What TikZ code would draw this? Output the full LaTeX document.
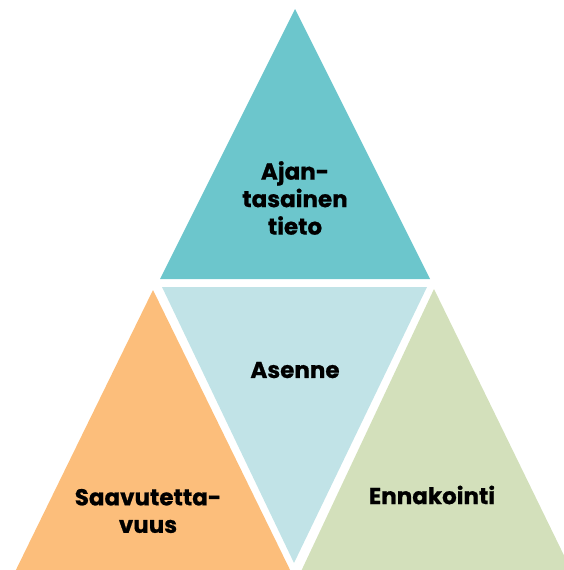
\documentclass[tikz,border=0pt]{standalone}
\usepackage{fontspec}
\setmainfont{Poppins}[BoldFont={* Bold},BoldFeatures={FakeBold=0.8}]
\definecolor{cteal}{HTML}{6CC6CC}
\definecolor{clight}{HTML}{C1E3E7}
\definecolor{corange}{HTML}{FCBE7B}
\definecolor{cgreen}{HTML}{D3E0BB}
\begin{document}
\begin{tikzpicture}[x=1pt,y=-1pt,
  lbl/.style={align=center,font=\bfseries\fontsize{23}{27.5}\selectfont,text=black,inner sep=0pt}]
\useasboundingbox (0,0) rectangle (564,570);
\clip (0,0) rectangle (564,570);
% top triangle
\coordinate (ta) at (295,9);
\coordinate (tl) at (160,279);
\coordinate (tr) at (430,279);
\fill[cteal] (ta) -- (tl) -- (tr) -- cycle;
% middle inverted triangle
\coordinate (ml) at (162,287);
\coordinate (mr) at (427,287);
\coordinate (mb) at (294,563);
\fill[clight] (ml) -- (mr) -- (mb) -- cycle;
% bottom left triangle
\coordinate (la) at (153,290);
\coordinate (ll) at (11,580);
\coordinate (lr) at (295,580);
\fill[corange] (la) -- (ll) -- (lr) -- cycle;
% bottom right triangle
\coordinate (ra) at (434,289);
\coordinate (rl) at (297,580);
\coordinate (rr) at (576,580);
\fill[cgreen] (ra) -- (rl) -- (rr) -- cycle;
% labels
\node[lbl] (t1) at (295,198) {Ajan-\\tasainen\\tieto};
\node[lbl] (t2) at (295,370) {Asenne};
\node[lbl] (t3) at (148,511) {Saavutetta-\\vuus};
\node[lbl] (t4) at (432,495) {Ennakointi};
\end{tikzpicture}
\end{document}
